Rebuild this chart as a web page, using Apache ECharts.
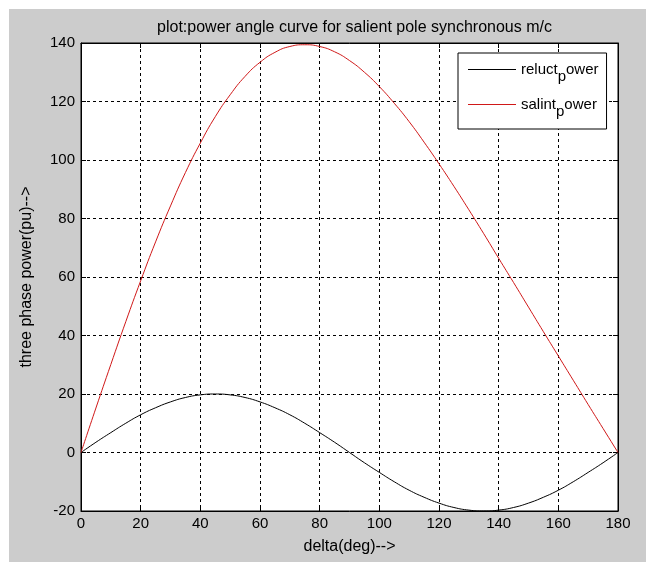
<!DOCTYPE html>
<html>
<head>
<meta charset="utf-8">
<script src="https://cdn.jsdelivr.net/npm/echarts@6/dist/echarts.min.js"></script>
<style>
html,body{margin:0;padding:0;background:#ffffff;}
#c{width:646px;height:562px;}
</style>
</head>
<body>
<div id="c"></div>
<script>
// delta in degrees
const deltaDeg = [0,5,10,15,20,25,30,35,40,45,50,55,60,65,70,75,80,85,90,95,100,105,110,115,120,125,130,135,140,145,150,155,160,165,170,175,180];
// reluctance power (pu)
const reluctPower = [0,3.5,6.8,10,12.9,15.3,17.3,18.8,19.7,20,19.7,18.8,17.3,15.3,12.9,10,6.8,3.5,0,-3.5,-6.8,-10,-12.9,-15.3,-17.3,-18.8,-19.7,-20,-19.7,-18.8,-17.3,-15.3,-12.9,-10,-6.8,-3.5,0];
// salient pole total power (pu)
const salintPower = [0,15.2,30.1,44.7,58.7,72.0,84.3,95.7,105.8,114.8,122.3,128.6,133.4,136.8,138.8,139.4,138.8,137.0,134,130.0,125.1,119.4,113.1,106.1,98.7,91.0,83.0,74.8,66.4,58.1,49.7,41.3,33.0,24.7,16.4,8.2,0];
const xTicks = [0,20,40,60,80,100,120,140,160,180];
const yTicks = [-20,0,20,40,60,80,100,120,140];
const seriesNames = ['reluct_power','salint_power'];
const titleText = 'plot:power angle curve for salient pole synchronous m/c';
const xName = 'delta(deg)-->';
const yName = 'three phase power(pu)-->';

const font = 'Liberation Sans';
const chart = echarts.init(document.getElementById('c'));
const pairs = (ys) => deltaDeg.map((d,i) => [d, ys[i]]);
const gridLine = {show:true, lineStyle:{color:'#000', width:1, type:[3,3]}};
const tickIn = {show:true, inside:true, length:5, lineStyle:{color:'#000'}};
const axLine = {show:true, onZero:false, lineStyle:{color:'#000'}};

chart.setOption({
  animation:false,
  backgroundColor:'#ffffff',
  graphic:[{type:'rect', z:-100, silent:true, shape:{x:9,y:9,width:637,height:553}, style:{fill:'#cccccc'}}],
  title:{text:titleText, left:349.5, textAlign:'center', top:15,
    textStyle:{fontFamily:font, fontSize:16, fontWeight:'normal', color:'#000'}},
  grid:{left:81, top:43, right:28, bottom:51, show:true, backgroundColor:'#ffffff', borderColor:'#000', borderWidth:1, z:0},
  legend:{
    left:458, top:53, orient:'vertical',
    data:seriesNames.map(n => ({name:n, icon:'rect'})),
    backgroundColor:'#ffffff', borderColor:'#000', borderWidth:1,
    padding:[9,8,10,10], itemWidth:48, itemHeight:1, itemGap:13,
    textStyle:{fontFamily:font, fontSize:15, color:'#000',
      rich:{sub:{fontFamily:font, fontSize:15, color:'#000', padding:[14,0,0,0]}}},
    formatter:function(name){ const i = name.indexOf('_'); return name.slice(0,i) + '{sub|' + name[i+1] + '}' + name.slice(i+2); }
  },
  xAxis:[
    {type:'value', min:xTicks[0], max:xTicks[xTicks.length-1], interval:20, position:'bottom',
     name:xName, nameLocation:'middle', nameGap:28,
     nameTextStyle:{fontFamily:font, fontSize:16, color:'#000'},
     axisLine:axLine, axisTick:tickIn,
     axisLabel:{fontFamily:font, fontSize:15, color:'#000', margin:5},
     splitLine:gridLine},
    {type:'value', min:xTicks[0], max:xTicks[xTicks.length-1], interval:20, position:'top',
     axisLine:axLine, axisTick:tickIn, axisLabel:{show:false}, splitLine:{show:false}}
  ],
  yAxis:[
    {type:'value', min:yTicks[0], max:yTicks[yTicks.length-1], interval:20, position:'left',
     name:yName, nameLocation:'middle', nameGap:46,
     nameTextStyle:{fontFamily:font, fontSize:16, color:'#000'},
     axisLine:axLine, axisTick:tickIn,
     axisLabel:{fontFamily:font, fontSize:15, color:'#000', margin:6},
     splitLine:gridLine},
    {type:'value', min:yTicks[0], max:yTicks[yTicks.length-1], interval:20, position:'right',
     axisLine:axLine, axisTick:tickIn, axisLabel:{show:false}, splitLine:{show:false}}
  ],
  series:[
    {name:seriesNames[0], type:'line', data:pairs(reluctPower), symbol:'none', smooth:true,
     lineStyle:{color:'#000000', width:1}, itemStyle:{color:'#000000'}},
    {name:seriesNames[1], type:'line', data:pairs(salintPower), symbol:'none', smooth:true,
     lineStyle:{color:'#d01818', width:1}, itemStyle:{color:'#d01818'}}
  ]
});
</script>
</body>
</html>
